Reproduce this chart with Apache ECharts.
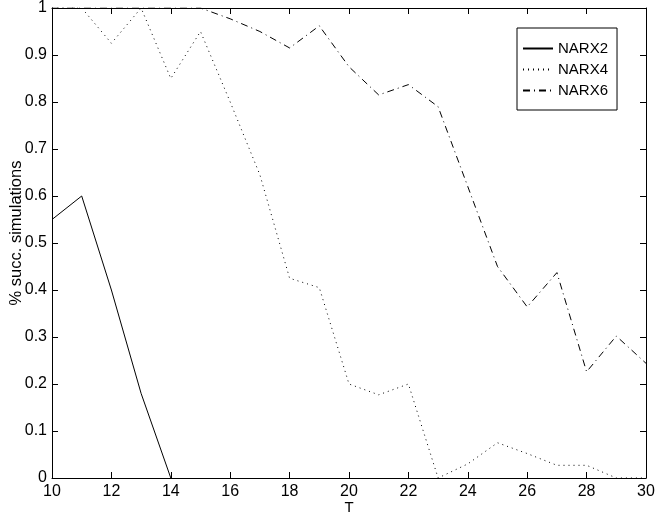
<!DOCTYPE html>
<html>
<head>
<meta charset="utf-8">
<script src="https://cdn.jsdelivr.net/npm/echarts@6/dist/echarts.min.js"></script>
<style>
  html, body { margin: 0; padding: 0; background: #fff; }
  #main { width: 658px; height: 519px; }
</style>
</head>
<body>
<div id="main"></div>
<script>
// horizon T
const tValues = [10, 11, 12, 13, 14, 15, 16, 17, 18, 19, 20, 21, 22, 23, 24, 25, 26, 27, 28, 29, 30];

// % successful simulations
const narx2 = [0.55, 0.6, 0.4, 0.18, 0];
const narx4 = [1, 1, 0.925, 1, 0.85, 0.95, 0.8, 0.645, 0.425, 0.405, 0.2, 0.177, 0.2, 0, 0.03, 0.075, 0.052, 0.027, 0.027, 0, 0];
const narx6 = [1, 1, 1, 1, 1, 1, 0.977, 0.95, 0.915, 0.962, 0.875, 0.815, 0.837, 0.79, 0.62, 0.45, 0.364, 0.437, 0.226, 0.302, 0.244];

const chartDom = document.getElementById('main');
const myChart = echarts.init(chartDom);

function pairs(vals) {
  return vals.map(function (v, i) {
    return [tValues[i], v];
  });
}

const font = 'Liberation Sans, Arial, Helvetica, sans-serif';

const option = {
  animation: false,
  backgroundColor: '#fff',
  textStyle: { fontFamily: font, color: '#000' },
  grid: { left: 52, right: 12, top: 8, bottom: 41, containLabel: false, outerBoundsMode: 'none' },
  legend: {
    orient: 'vertical',
    left: 517,
    top: 28,
    padding: [13, 9, 12, 5],
    itemWidth: 30,
    itemHeight: 14,
    itemGap: 6,
    borderColor: '#000',
    borderWidth: 1,
    backgroundColor: '#fff',
    itemStyle: { opacity: 0 },
    textStyle: { fontFamily: font, fontSize: 15, color: '#000' },
    data: ['NARX2', 'NARX4', 'NARX6']
  },
  xAxis: [
    {
      type: 'value',
      min: 10,
      max: 30,
      interval: 2,
      name: 'T',
      nameLocation: 'middle',
      nameGap: 22,
      nameMoveOverlap: false,
      nameTextStyle: { fontFamily: font, fontSize: 15, color: '#000' },
      splitLine: { show: false },
      axisLine: { lineStyle: { color: '#000', width: 1 } },
      axisTick: { inside: true, length: 6, lineStyle: { color: '#000' } },
      axisLabel: { margin: 6, fontFamily: font, fontSize: 16, color: '#000' }
    },
    {
      type: 'value',
      position: 'top',
      min: 10,
      max: 30,
      interval: 2,
      splitLine: { show: false },
      axisLine: { onZero: false, lineStyle: { color: '#000', width: 1 } },
      axisTick: { inside: true, length: 6, lineStyle: { color: '#000' } },
      axisLabel: { show: false }
    }
  ],
  yAxis: [
    {
      type: 'value',
      min: 0,
      max: 1,
      interval: 0.1,
      name: '% succ. simulations',
      nameLocation: 'middle',
      nameRotate: 90,
      nameGap: 27,
      nameMoveOverlap: false,
      nameTextStyle: { fontFamily: font, fontSize: 16.5, color: '#000', padding: [0, 0, 0, 20] },
      splitLine: { show: false },
      axisLine: { show: true, lineStyle: { color: '#000', width: 1 } },
      axisTick: { show: true, inside: true, length: 6, lineStyle: { color: '#000' } },
      axisLabel: { margin: 5, fontFamily: font, fontSize: 16, color: '#000' }
    },
    {
      type: 'value',
      position: 'right',
      min: 0,
      max: 1,
      interval: 0.1,
      splitLine: { show: false },
      axisLine: { show: true, onZero: false, lineStyle: { color: '#000', width: 1 } },
      axisTick: { show: true, inside: true, length: 6, lineStyle: { color: '#000' } },
      axisLabel: { show: false }
    }
  ],
  series: [
    {
      name: 'NARX2',
      type: 'line',
      data: pairs(narx2),
      symbol: 'none',
      itemStyle: { color: '#000' },
      lineStyle: { color: '#000', width: 1, type: 'solid' }
    },
    {
      name: 'NARX4',
      type: 'line',
      data: pairs(narx4),
      symbol: 'none',
      itemStyle: { color: '#000' },
      lineStyle: { color: '#000', width: 1, type: [1, 4] }
    },
    {
      name: 'NARX6',
      type: 'line',
      data: pairs(narx6),
      symbol: 'none',
      itemStyle: { color: '#000' },
      lineStyle: { color: '#000', width: 1, type: [7, 4, 1, 4] }
    }
  ]
};

myChart.setOption(option);
</script>
</body>
</html>
